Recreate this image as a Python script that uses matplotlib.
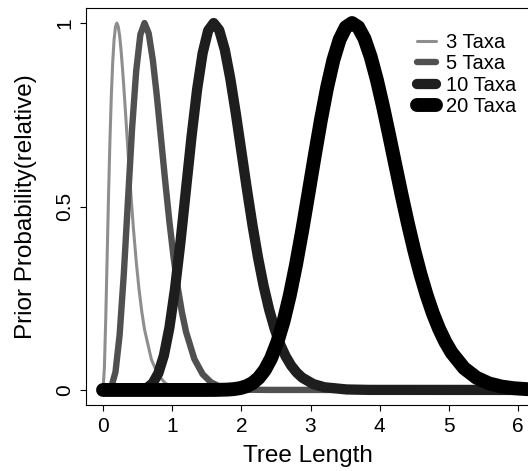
import matplotlib
matplotlib.use("Agg")
import matplotlib.pyplot as plt

plt.rcParams['font.family'] = ['Liberation Sans', 'DejaVu Sans']

# values (relative prior probability vs tree length)
x3 = [0, 0.02, 0.04, 0.06, 0.08, 0.1, 0.12, 0.14, 0.16, 0.18, 0.2, 0.22, 0.24, 0.26, 0.28,
      0.3, 0.32, 0.36, 0.4, 0.44, 0.48, 0.52, 0.56, 0.6, 0.7, 0.8, 0.9, 1.0, 1.2, 1.5, 2.0, 6.5]
y3 = [0, 0.0605, 0.1981, 0.3649, 0.5311, 0.6796, 0.8012, 0.8928, 0.9547, 0.9894, 1.0,
      0.9906, 0.9653, 0.9276, 0.8806, 0.8277, 0.7711, 0.6542, 0.5413, 0.439, 0.3502,
      0.2755, 0.2142, 0.1648, 0.0825, 0.0397, 0.0185, 0.0084, 0.0016, 0.0001, 0, 0]

x5 = [0, 0.06, 0.12, 0.18, 0.24, 0.3, 0.36, 0.42, 0.48, 0.54, 0.6, 0.66, 0.72, 0.78, 0.84,
      0.9, 0.96, 1.02, 1.08, 1.14, 1.2, 1.32, 1.44, 1.56, 1.68, 1.8, 2.1, 2.4, 6.5]
y5 = [0, 0.0002, 0.0078, 0.0486, 0.1498, 0.3139, 0.5143, 0.7117, 0.8702, 0.9686, 1.0,
      0.9721, 0.8995, 0.7981, 0.6829, 0.5671, 0.4585, 0.362, 0.28, 0.2125, 0.1586,
      0.0846, 0.043, 0.0209, 0.0098, 0.0045, 0.0006, 0.0001, 0]

x10 = [0, 0.32, 0.48, 0.56, 0.64, 0.72, 0.8, 0.88, 0.96, 1.04, 1.12, 1.2, 1.28, 1.36,
       1.44, 1.52, 1.6, 1.68, 1.76, 1.84, 1.92, 2.0, 2.08, 2.16, 2.24, 2.32, 2.4, 2.48,
       2.56, 2.64, 2.72, 2.8, 2.88, 3.04, 3.2, 3.52, 3.84, 6.5]
y10 = [0, 0, 0.0003, 0.0017, 0.0063, 0.0188, 0.0455, 0.0939, 0.1698, 0.2746, 0.4038,
       0.5472, 0.6907, 0.8186, 0.9178, 0.9796, 1.0, 0.9808, 0.9277, 0.8489, 0.7536,
       0.6507, 0.5476, 0.45, 0.3618, 0.2851, 0.2204, 0.1673, 0.1249, 0.0919, 0.0665,
       0.0475, 0.0335, 0.0161, 0.0074, 0.0014, 0.0002, 0]

x20 = [0, 1.44, 1.62, 1.8, 1.89, 1.98, 2.07, 2.16, 2.25, 2.34, 2.43, 2.52, 2.61, 2.7,
       2.79, 2.88, 2.97, 3.06, 3.15, 3.24, 3.33, 3.42, 3.51, 3.6, 3.69, 3.78, 3.87, 3.96,
       4.05, 4.14, 4.23, 4.32, 4.41, 4.5, 4.59, 4.68, 4.77, 4.86, 4.95, 5.04, 5.22, 5.4,
       5.58, 5.76, 5.94, 6.12, 6.3, 6.48]
y20 = [0, 0, 0.0001, 0.001, 0.0023, 0.0049, 0.0098, 0.0185, 0.0327, 0.0546, 0.0864,
       0.13, 0.187, 0.2576, 0.341, 0.4347, 0.5352, 0.6372, 0.7357, 0.8245, 0.8989,
       0.9546, 0.9886, 1.0, 0.9889, 0.9574, 0.908, 0.8447, 0.7711, 0.6917, 0.61, 0.5291,
       0.452, 0.3802, 0.3154, 0.258, 0.2082, 0.1659, 0.1306, 0.1016, 0.0594, 0.0333,
       0.0179, 0.0093, 0.0047, 0.0023, 0.0011, 0.0005]

labels = ["3 Taxa", "5 Taxa", "10 Taxa", "20 Taxa"]
colors = ["#8e8e8e", "#505050", "#1e1e1e", "#000000"]
widths = [2.2, 4.6, 7.4, 10.0]

fig = plt.figure(figsize=(5.28, 4.71), dpi=100)
W, H = 528, 471
# plot region runs past the right edge of the picture (cropped original)
ax = fig.add_axes([86 / W, 1 - 405 / H, (545 - 86) / W, (405 - 8) / H])

series = [(x3, y3), (x5, y5), (x10, y10), (x20, y20)]
for (xs, ys), lab, c, lw in zip(series, labels, colors, widths):
    ax.plot(xs, ys, color=c, lw=lw, label=lab, solid_capstyle='round',
            solid_joinstyle='round')

ax.set_xlim(-0.246, 6.39)
ax.set_ylim(-0.041, 1.041)
ax.set_xticks([0, 1, 2, 3, 4, 5, 6])
ax.set_yticks([0, 0.5, 1])
ax.set_yticklabels(["0", "0.5", "1"], rotation=90, va='center')
ax.tick_params(direction='out', length=4.5, width=0.8, labelsize=15)
ax.tick_params(axis='x', pad=4.5)
ax.tick_params(axis='y', pad=4)
for s in ax.spines.values():
    s.set_linewidth(0.8)

fig.text(26 / W, 1 - 206.5 / H, "Prior Probability(relative)", rotation=90,
         ha='center', va='center', fontsize=17.5)
fig.text(308 / W, 1 - 456 / H, "Tree Length", ha='center', va='center', fontsize=17.5)

ax.legend(loc='upper left', bbox_to_anchor=(417 / W, 1 - 33 / H),
          bbox_transform=fig.transFigure, frameon=False, fontsize=14.5,
          borderpad=0, borderaxespad=0, handlelength=0.95, handletextpad=0.5,
          labelspacing=0.12)

fig.savefig("out.png", dpi=100)
